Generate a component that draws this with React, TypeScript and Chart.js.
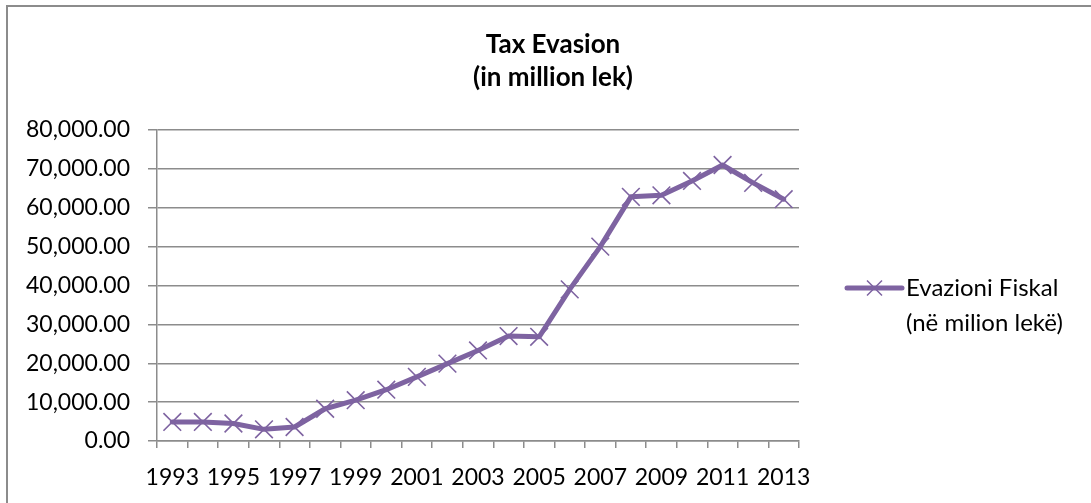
import { useEffect, useRef } from 'react';
import { Chart, registerables } from 'chart.js';

Chart.register(...registerables);

// Annual estimate of tax evasion, million lek
const YEARS = [
  '1993', '1994', '1995', '1996', '1997', '1998', '1999', '2000', '2001', '2002', '2003',
  '2004', '2005', '2006', '2007', '2008', '2009', '2010', '2011', '2012', '2013',
];
const TAX_EVASION = [
  4900, 4900, 4500, 3000, 3600, 8300, 10500, 13200, 16500, 19900, 23300,
  27000, 26800, 39000, 50000, 62800, 63200, 66900, 71000, 66400, 62200,
];
const TITLE_LINES = ['Tax Evasion', '(in million lek)'];
const SERIES_LABEL_LINES = ['Evazioni Fiskal', '(në milion lekë)'];
const Y_MIN = 0;
const Y_MAX = 80000;
const Y_STEP = 10000;

const PURPLE = '#7E63A1';
const GRID = '#8c8c8c';
const FONT = 'Lato';

const headingPlugin = {
  id: 'heading',
  afterDraw(chart: any) {
    const { ctx } = chart;
    ctx.save();
    ctx.font = `bold 26px ${FONT}`;
    ctx.fillStyle = '#000';
    ctx.textAlign = 'center';
    ctx.textBaseline = 'middle';
    const cx = chart.width / 2 + 7.5;
    TITLE_LINES.forEach((t, i) => ctx.fillText(t, cx, 45 + i * 33));
    ctx.restore();
  },
};

const sideLegendPlugin = {
  id: 'sideLegend',
  afterDraw(chart: any) {
    const { ctx, chartArea } = chart;
    const x0 = chartArea.right + 48;
    const y0 = chartArea.top + 158;
    ctx.save();
    ctx.strokeStyle = PURPLE;
    ctx.lineCap = 'round';
    ctx.lineWidth = 5;
    ctx.beginPath();
    ctx.moveTo(x0, y0);
    ctx.lineTo(x0 + 55, y0);
    ctx.stroke();
    const cx = x0 + 27.5;
    const d = 7.5;
    ctx.lineWidth = 1.5;
    ctx.lineCap = 'butt';
    ctx.beginPath();
    ctx.moveTo(cx - d, y0 - d);
    ctx.lineTo(cx + d, y0 + d);
    ctx.moveTo(cx - d, y0 + d);
    ctx.lineTo(cx + d, y0 - d);
    ctx.stroke();
    ctx.font = `24px ${FONT}`;
    ctx.fillStyle = '#000';
    ctx.textAlign = 'left';
    ctx.textBaseline = 'middle';
    SERIES_LABEL_LINES.forEach((t, i) => ctx.fillText(t, x0 + 59, y0 + i * 35));
    ctx.restore();
  },
};

export default function App() {
  const canvasRef = useRef<HTMLCanvasElement | null>(null);

  useEffect(() => {
    const canvas = canvasRef.current;
    if (!canvas) return;
    const chart = new Chart(canvas, {
      type: 'line',
      data: {
        labels: YEARS,
        datasets: [
          {
            label: SERIES_LABEL_LINES.join(' '),
            data: TAX_EVASION,
            borderColor: PURPLE,
            backgroundColor: PURPLE,
            borderWidth: 5,
            borderJoinStyle: 'round',
            borderCapStyle: 'round',
            tension: 0,
            pointStyle: 'crossRot',
            pointRadius: 12.5,
            pointBorderWidth: 1.6,
            pointBorderColor: PURPLE,
            pointBackgroundColor: PURPLE,
          },
        ],
      },
      options: {
        responsive: false,
        animation: false,
        devicePixelRatio: 1,
        layout: { padding: { left: 15, top: 130, right: 292, bottom: 0 } },
        plugins: {
          legend: { display: false },
          title: { display: false },
          tooltip: { enabled: false },
        },
        scales: {
          x: {
            type: 'category',
            offset: true,
            grid: {
              offset: true,
              drawOnChartArea: false,
              drawTicks: true,
              tickLength: 7,
              color: GRID,
              lineWidth: 1.5,
            },
            border: { color: GRID, width: 1.5 },
            ticks: {
              autoSkip: false,
              maxRotation: 0,
              minRotation: 0,
              padding: 16,
              color: '#000',
              font: { family: FONT, size: 23 },
              callback: (_v: any, i: number) => (i % 2 === 0 ? YEARS[i] : ''),
            },
            afterFit: (s: any) => {
              s.height = 62;
            },
          },
          y: {
            min: Y_MIN,
            max: Y_MAX,
            grid: {
              color: GRID,
              lineWidth: 1.5,
              tickLength: 9,
            },
            border: { color: GRID, width: 1.5 },
            ticks: {
              stepSize: Y_STEP,
              padding: 18,
              color: '#000',
              font: { family: FONT, size: 23 },
              callback: (v: any) =>
                Number(v).toLocaleString('en-US', {
                  minimumFractionDigits: 2,
                  maximumFractionDigits: 2,
                }),
            },
            afterFit: (s: any) => {
              s.width = 142;
            },
          },
        },
      },
      plugins: [headingPlugin, sideLegendPlugin],
    });
    return () => chart.destroy();
  }, []);

  return (
    <div style={{ position: 'fixed', left: 0, top: 0, width: 1091, height: 503, background: '#fff' }}>
      <div
        style={{
          position: 'absolute',
          left: 6,
          top: 5,
          width: 1100,
          height: 520,
          borderTop: '2px solid #8c8c8c',
          borderLeft: '2px solid #8c8c8c',
        }}
      />
      <canvas ref={canvasRef} width={1091} height={503} style={{ position: 'absolute', left: 0, top: 0 }} />
    </div>
  );
}
